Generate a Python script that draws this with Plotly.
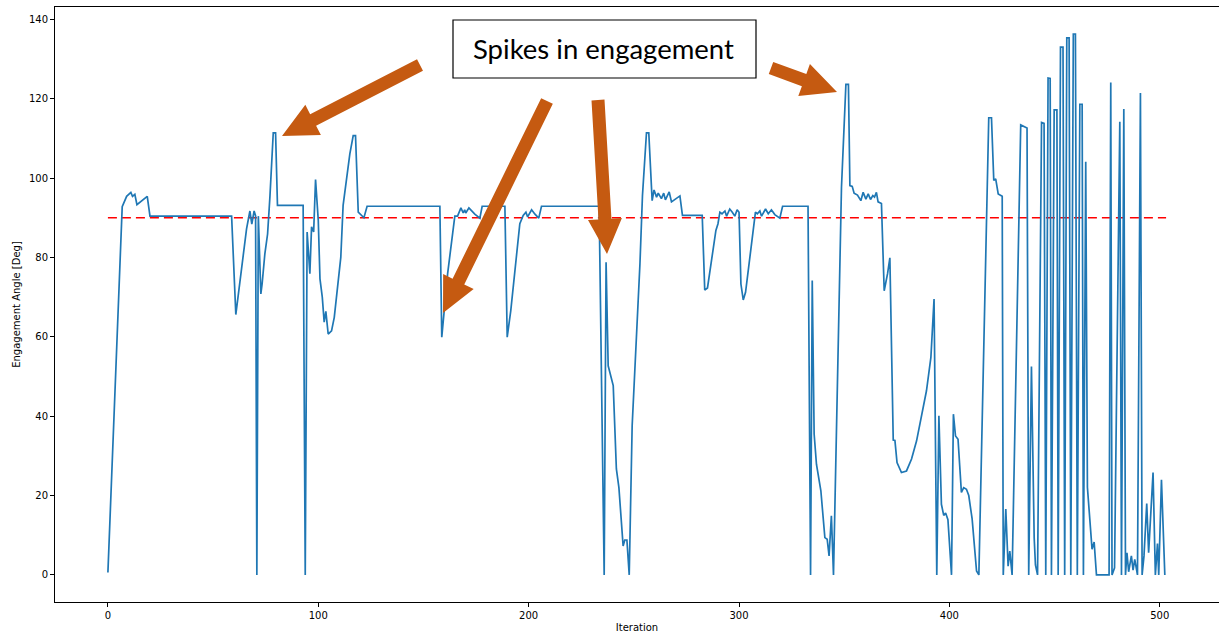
import math
import plotly.graph_objects as go

# Engagement angle trace, one vertex per listed iteration
iteration = [
    0, 6.8, 8.9, 10.9, 11.7, 12.8, 13.8, 18.7, 20, 58.8,
    60.8, 65.9, 67.5, 68.4, 69.5, 70.2, 70.8, 71.5, 72.7, 73.3,
    74.6, 75.9, 77, 78.6, 79.7, 80.6, 92.8, 93.8, 94.7, 96,
    96.8, 97.8, 98.7, 100, 100.8, 101.9, 102.8, 103.6, 104.7, 106.3,
    107.6, 109.2, 110.7, 111.8, 113.4, 115, 116.6, 117.7, 119, 121.7,
    123.2, 157.8, 158.7, 161.5, 164.9, 166.2, 167.8, 168.9, 169.6, 170.1,
    171.6, 174.4, 176.8, 177.9, 188.7, 189.8, 191.5, 193.4, 195.8, 197.4,
    198.7, 199.5, 201.4, 203, 204.8, 206.1, 233.5, 235.9, 236.8, 237.8,
    240.2, 241.7, 242.9, 244.9, 245.7, 246.7, 247.8, 249.2, 251.3, 252.9,
    254.1, 256, 257.1, 258.7, 259.6, 260.8, 261.6, 263.1, 264.2, 265,
    266.8, 267.9, 271.9, 273.1, 282.5, 283.7, 285, 286.9, 289, 290,
    290.9, 291.9, 293.3, 294.1, 295.6, 296.8, 298, 299.1, 300, 300.9,
    302, 303.1, 305.1, 306.7, 307.8, 308.7, 309.9, 310.7, 312.6, 313.9,
    315.4, 317, 319.4, 320.7, 332.8, 334, 334.8, 335.7, 336.8, 338.9,
    340.8, 341.9, 342.8, 343.9, 344.9, 348.7, 350.8, 352, 352.7, 353.8,
    354.7, 356.3, 357.9, 359, 360.3, 361.4, 362.5, 363.6, 364.4, 365.3,
    366.1, 367.7, 369, 370.6, 371.7, 373.3, 374.1, 375.1, 377.2, 379.6,
    382, 384.4, 386.7, 389.1, 391.2, 392.7, 394, 395, 396.2, 397.3,
    398.2, 399.3, 401, 401.9, 402.9, 404.1, 405.7, 406.8, 408.1, 409.2,
    410.8, 412.9, 414, 418.7, 420, 421.1, 422, 423.2, 425.1, 425.6,
    426.8, 427.9, 428.7, 429.8, 433.9, 435.8, 436.9, 437.7, 439, 440.3,
    440.9, 441.9, 443.8, 445, 445.8, 446.9, 447.9, 448.5, 449.8, 451.1,
    451.7, 452.8, 454, 454.8, 455.8, 456.9, 457.7, 458.9, 459.9, 460.8,
    462, 463.1, 463.7, 464.8, 465.6, 467.8, 468.8, 469.9, 475.9, 476.7,
    477.3, 478.5, 481, 481.8, 482.9, 483.7, 484.4, 485.2, 486.5, 487.3,
    488.1, 489.4, 490.8, 491.6, 492.5, 493.8, 494.7, 496.8, 497.9, 498.9,
    499.5, 500.8, 502.4,
]
angle_deg = [
    0.6, 92.8, 95.4, 96.4, 95.4, 95.9, 93.3, 95.4, 90.4, 90.4,
    65.6, 87.2, 91.7, 88.4, 91.7, 90.5, 0, 90.4, 70.8, 73.3,
    80.9, 85.9, 95.2, 111.4, 111.4, 93.1, 93.1, 0, 86.4, 75.9,
    87.7, 86.4, 99.6, 89.3, 74.6, 70, 63.7, 66.4, 60.7, 61.5,
    64.9, 72.5, 80, 93.1, 99.4, 106.1, 110.7, 110.7, 91.4, 90,
    92.9, 92.9, 59.9, 76, 90.4, 90.4, 92.5, 91.2, 92, 91.2,
    92.5, 90.9, 89.9, 92.9, 92.9, 59.9, 66.6, 76.7, 88.5, 90.6,
    91.4, 90.2, 92, 90.9, 89.9, 92.9, 92.9, 0, 78.8, 52.7,
    47.7, 26.7, 22, 7.3, 8.8, 8.8, 0, 37.6, 60.7, 78.4,
    95.6, 111.4, 111.4, 94.3, 97, 95.2, 96.2, 94.8, 96.2, 94.5,
    96.5, 94, 95.5, 90.6, 90.6, 71.8, 72.3, 79.2, 86.8, 88.5,
    91.4, 91, 91.7, 90.4, 92.2, 91.4, 90.4, 92, 91.4, 73.3,
    69.3, 71.2, 79.2, 86.8, 91.4, 91, 91.7, 90.4, 92.2, 91,
    92, 90.8, 89.9, 92.9, 92.9, 0, 74.2, 35.5, 27.9, 21.2,
    9.4, 9, 4.8, 14.9, 0, 97.7, 123.6, 123.6, 98.1, 97.9,
    96.2, 95.7, 94.3, 96.4, 94.7, 96, 94.6, 95.6, 95.2, 96.4,
    94, 93.6, 71.6, 75.9, 79.9, 34, 33.9, 28.3, 25.8, 26.2,
    29.2, 33.8, 39.7, 46.4, 54.8, 69.5, 0, 40.1, 17.8, 15,
    15.6, 13.9, 0, 40.5, 35, 34.2, 20.8, 22, 21.6, 20,
    14.1, 1, 0, 115.2, 115.2, 99.4, 99.8, 96, 95.4, 0,
    16.6, 2.2, 6, 0, 113.4, 113, 112.6, 0, 52.5, 9.3,
    2.5, 0, 114, 113.8, 0, 125.2, 125.1, 0, 117.2, 117.2,
    0, 133, 133, 0, 135.3, 135.3, 0, 136.3, 136.3, 0,
    118.6, 118.6, 0, 104.1, 22.1, 6.5, 8.3, 0, 0, 124.1,
    0, 1.8, 114.2, 0, 117.4, 0, 5.6, 0.8, 4.8, 1.2,
    3.9, 0, 121.4, 0, 4.8, 18, 5.6, 25.8, 0, 7.9,
    0, 24, 0,
]

target_angle = 90
target_span = [0, 503]

W, H = 1219, 636
M_L, M_R, M_T, M_B = 55, 0, 7, 34
PLOT_W = W - M_L - M_R
PLOT_H = H - M_T - M_B


def px_to_paper(px, py):
    return (px - M_L) / PLOT_W, (H - M_B - py) / PLOT_H


def arrow_path(tail, tip, shaft=13, head_w=34, head_len=35):
    tx, ty = tail
    hx, hy = tip
    L = math.hypot(hx - tx, hy - ty)
    dx, dy = (hx - tx) / L, (hy - ty) / L
    nx, ny = -dy, dx
    bx, by = hx - dx * head_len, hy - dy * head_len
    s, h = shaft / 2, head_w / 2
    pts = [
        (tx + nx * s, ty + ny * s),
        (bx + nx * s, by + ny * s),
        (bx + nx * h, by + ny * h),
        (hx, hy),
        (bx - nx * h, by - ny * h),
        (bx - nx * s, by - ny * s),
        (tx - nx * s, ty - ny * s),
    ]
    conv = [px_to_paper(x, y) for x, y in pts]
    return "M " + " L ".join(f"{x:.5f},{y:.5f}" for x, y in conv) + " Z"


fig = go.Figure()

fig.add_trace(go.Scatter(
    x=target_span, y=[target_angle, target_angle], mode="lines",
    line=dict(color="#ff0000", width=1.5, dash="9px,5px"),
    hoverinfo="skip", showlegend=False,
))
fig.add_trace(go.Scatter(
    x=iteration, y=angle_deg, mode="lines",
    line=dict(color="#1f77b4", width=1.7),
    showlegend=False,
))

axis_common = dict(
    showline=True, mirror=True, linecolor="black", linewidth=1,
    ticks="outside", ticklen=4, tickwidth=1, tickcolor="black",
    showgrid=False, zeroline=False,
    tickfont=dict(family="DejaVu Sans", size=10, color="black"),
    automargin=False,
)

fig.update_xaxes(
    range=[-25.15, 528.15], tickvals=[0, 100, 200, 300, 400, 500],
    title=dict(text="Iteration", standoff=3,
               font=dict(family="DejaVu Sans", size=10, color="black")),
    **axis_common,
)
fig.update_yaxes(
    range=[-6.82, 143.1], tickvals=[0, 20, 40, 60, 80, 100, 120, 140],
    title=dict(text="Engagement Angle [Deg]", standoff=6,
               font=dict(family="DejaVu Sans", size=10, color="black")),
    **axis_common,
)

# Callout box
bx0, by0 = px_to_paper(453, 78)
bx1, by1 = px_to_paper(756, 20)
shapes = [dict(type="rect", xref="paper", yref="paper",
               x0=bx0, y0=by0, x1=bx1, y1=by1,
               line=dict(color="black", width=1.2), fillcolor="white", layer="above")]

# Arrows pointing at the spikes
arrows = [
    ((420, 65), (282, 136)),
    ((547, 101), (443, 313)),
    ((598, 100), (607, 254)),
    ((771, 68), (837, 92)),
]
for tail, tip in arrows:
    shapes.append(dict(type="path", xref="paper", yref="paper",
                       path=arrow_path(tail, tip),
                       fillcolor="#C55A11", line=dict(width=0), layer="above"))

cx, cy = px_to_paper(603.5, 49)
fig.update_layout(
    width=W, height=H,
    margin=dict(l=M_L, r=M_R, t=M_T, b=M_B, pad=0),
    paper_bgcolor="white", plot_bgcolor="white",
    shapes=shapes,
    annotations=[dict(
        x=cx, y=cy, xref="paper", yref="paper", showarrow=False,
        text="Spikes in engagement",
        font=dict(family="Lato", size=27.5, color="black"),
        xanchor="center", yanchor="middle",
    )],
)

fig.write_html("out.html")
